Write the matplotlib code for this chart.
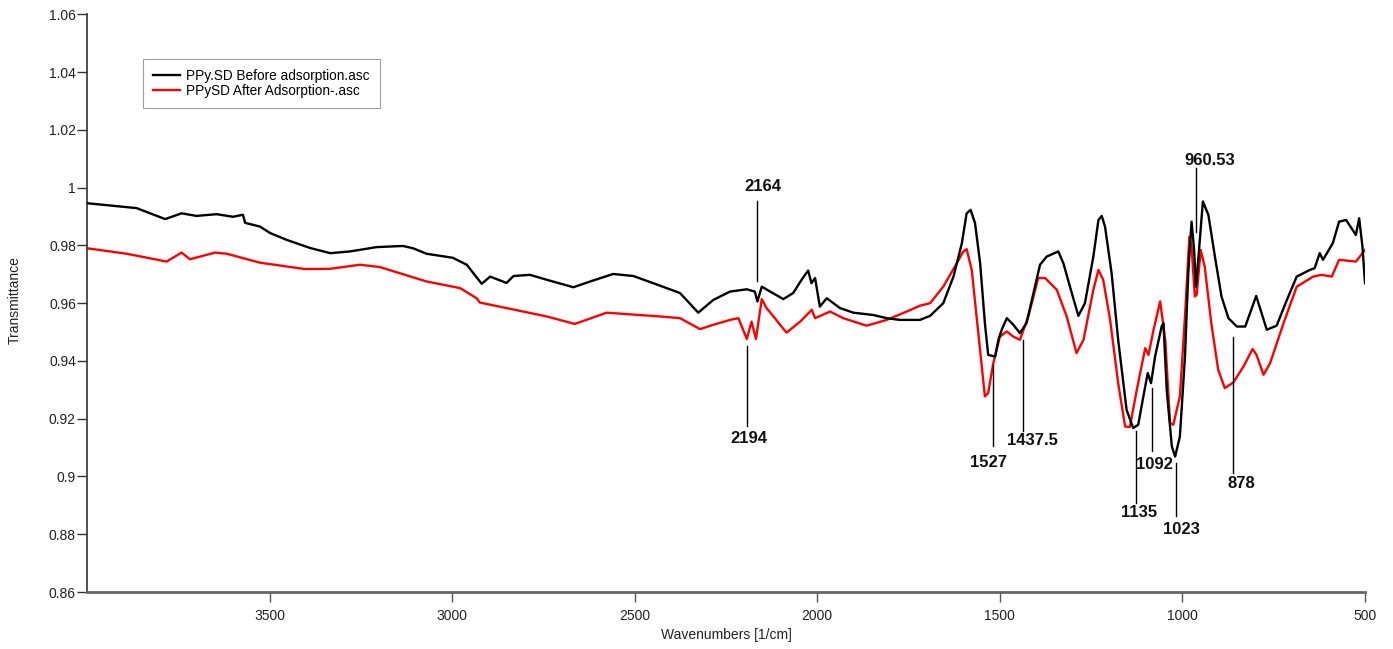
import matplotlib
matplotlib.use("Agg")
import matplotlib.pyplot as plt

plt.rcParams['font.family'] = ['Liberation Sans', 'DejaVu Sans']

# Wavenumbers and transmittance
before_x = [4000, 3864, 3786, 3741, 3700, 3645, 3600, 3573, 3567, 3526, 3499, 3453,
            3389, 3334, 3280, 3207, 3135, 3107, 3070, 2998, 2960, 2919, 2896, 2851,
            2832, 2787, 2741, 2668, 2622, 2559, 2504, 2449, 2376, 2326, 2285, 2239,
            2193, 2171, 2164, 2152, 2129, 2093, 2066, 2043, 2025, 2016, 2006, 1993,
            1974, 1938, 1901, 1847, 1810, 1774, 1719, 1691, 1655, 1627, 1604, 1591,
            1580, 1568, 1554, 1541, 1532, 1513, 1504, 1495, 1481, 1463, 1445, 1427,
            1408, 1390, 1372, 1340, 1326, 1308, 1285, 1267, 1244, 1230, 1221, 1212,
            1194, 1176, 1153, 1135, 1121, 1107, 1095, 1086, 1075, 1057, 1052, 1043,
            1029, 1020, 1007, 993, 984, 975, 968, 963, 956, 944, 929, 911, 893, 874,
            851, 828, 798, 783, 769, 742, 714, 687, 651, 638, 624, 615, 588, 571,
            552, 534, 525, 516, 507, 500]
before_y = [0.9946, 0.9929, 0.9891, 0.9911, 0.9902, 0.9908, 0.9899, 0.9906, 0.9878,
            0.9865, 0.9843, 0.9819, 0.9791, 0.9773, 0.9779, 0.9794, 0.9798, 0.9790,
            0.9771, 0.9757, 0.9733, 0.9667, 0.9692, 0.9670, 0.9694, 0.9698, 0.9681,
            0.9655, 0.9675, 0.9701, 0.9694, 0.9669, 0.9635, 0.9567, 0.9611, 0.9640,
            0.9648, 0.9640, 0.9606, 0.9657, 0.9640, 0.9614, 0.9635, 0.9681, 0.9713,
            0.9669, 0.9687, 0.9588, 0.9617, 0.9583, 0.9567, 0.9559, 0.9548, 0.9542,
            0.9542, 0.9556, 0.9600, 0.9692, 0.9808, 0.9911, 0.9923, 0.9877, 0.9738,
            0.9531, 0.9421, 0.9415, 0.9473, 0.9508, 0.9548, 0.9525, 0.9496, 0.9531,
            0.9635, 0.9733, 0.9761, 0.9779, 0.9738, 0.9657, 0.9556, 0.9600, 0.9761,
            0.9888, 0.9902, 0.9865, 0.9704, 0.9473, 0.9231, 0.9168, 0.9179, 0.9277,
            0.9358, 0.9323, 0.9415, 0.9519, 0.9531, 0.9300, 0.9104, 0.9069, 0.9138,
            0.9415, 0.9704, 0.9882, 0.9784, 0.9657, 0.9761, 0.9952, 0.9906, 0.9761,
            0.9623, 0.9548, 0.9519, 0.9519, 0.9625, 0.9565, 0.9508, 0.9522, 0.9611,
            0.9692, 0.9715, 0.9721, 0.9773, 0.9750, 0.9808, 0.9882, 0.9888, 0.9854,
            0.9836, 0.9894, 0.9796, 0.9669]

after_x = [4000, 3891, 3782, 3741, 3718, 3649, 3617, 3526, 3403, 3334, 3252, 3198,
           3070, 2978, 2933, 2924, 2851, 2741, 2664, 2577, 2431, 2376, 2321, 2285,
           2239, 2216, 2193, 2180, 2168, 2152, 2139, 2120, 2102, 2084, 2047, 2015,
           2006, 1965, 1929, 1865, 1810, 1755, 1719, 1691, 1655, 1623, 1600, 1591,
           1577, 1559, 1541, 1532, 1518, 1500, 1481, 1463, 1445, 1422, 1395, 1376,
           1344, 1317, 1290, 1271, 1244, 1230, 1217, 1198, 1176, 1157, 1144, 1125,
           1102, 1093, 1079, 1061, 1047, 1034, 1025, 1007, 993, 981, 975, 966, 961,
           950, 939, 921, 902, 884, 861, 833, 808, 797, 778, 760, 723, 687, 642,
           619, 591, 571, 525, 500]
after_y = [0.9790, 0.9771, 0.9744, 0.9775, 0.9752, 0.9775, 0.9771, 0.9740, 0.9718,
           0.9719, 0.9733, 0.9725, 0.9675, 0.9652, 0.9617, 0.9602, 0.9583, 0.9554,
           0.9528, 0.9567, 0.9554, 0.9548, 0.9510, 0.9525, 0.9542, 0.9548, 0.9476,
           0.9536, 0.9476, 0.9614, 0.9583, 0.9554, 0.9525, 0.9498, 0.9536, 0.9577,
           0.9548, 0.9571, 0.9548, 0.9522, 0.9542, 0.9571, 0.9591, 0.9600, 0.9657,
           0.9727, 0.9779, 0.9787, 0.9715, 0.9496, 0.9277, 0.9289, 0.9392, 0.9484,
           0.9502, 0.9484, 0.9473, 0.9554, 0.9687, 0.9687, 0.9646, 0.9554, 0.9427,
           0.9473, 0.9646, 0.9715, 0.9681, 0.9542, 0.9323, 0.9173, 0.9171, 0.9300,
           0.9444, 0.9421, 0.9508, 0.9606, 0.9473, 0.9185, 0.9179, 0.9277, 0.9554,
           0.9830, 0.9796, 0.9623, 0.9629, 0.9784, 0.9727, 0.9531, 0.9369, 0.9306,
           0.9325, 0.9380, 0.9441, 0.9421, 0.9352, 0.9392, 0.9531, 0.9657, 0.9692,
           0.9698, 0.9692, 0.9750, 0.9744, 0.9784]

series_labels = ["PPy.SD Before adsorption.asc", "PPySD After Adsorption-.asc"]

# Peak annotations: label, line x, line y range, label position
peak_labels = ["2164", "2194", "1527", "1437.5", "1135", "1092", "1023", "878", "960.53"]
peak_line_x = [2166, 2192, 1520, 1436, 1128, 1083, 1018, 861, 963]
peak_line_y0 = [0.9675, 0.9450, 0.9387, 0.9473, 0.9156, 0.9306, 0.9046, 0.9484, 0.9848]
peak_line_y1 = [0.9952, 0.9173, 0.9104, 0.9156, 0.8908, 0.9087, 0.8862, 0.9012, 1.0067]
peak_text_x = [2150, 2188, 1530, 1412, 1120, 1077, 1004, 838, 926]
peak_text_y = [1.0003, 0.9130, 0.9049, 0.9125, 0.8875, 0.9041, 0.8816, 0.8975, 1.0093]

y_ticks = [0.86, 0.88, 0.9, 0.92, 0.94, 0.96, 0.98, 1.0, 1.02, 1.04, 1.06]
y_tick_labels = ["0.86", "0.88", "0.9", "0.92", "0.94", "0.96", "0.98", "1", "1.02", "1.04", "1.06"]
x_ticks = [3500, 3000, 2500, 2000, 1500, 1000, 500]

fig = plt.figure(figsize=(13.93, 6.49), dpi=100)
ax = fig.add_axes([87 / 1393, 57 / 649, 1278 / 1393, 577.7 / 649])

ax.plot(before_x, before_y, color="black", lw=1.7, label=series_labels[0], zorder=3)
ax.plot(after_x, after_y, color="#ff0000", lw=1.7, label=series_labels[1], zorder=2)

for lab, lx, y0, y1, tx, ty in zip(peak_labels, peak_line_x, peak_line_y0, peak_line_y1,
                                   peak_text_x, peak_text_y):
    ax.plot([lx, lx], [y0, y1], color="black", lw=1.0, zorder=4)
    ax.text(tx, ty, lab, ha="center", va="center", fontsize=12, fontweight="bold",
            color="#111111")

ax.set_xlim(4000, 500)
ax.set_ylim(0.86, 1.06)
ax.set_xticks(x_ticks)
ax.set_xticklabels([str(t) for t in x_ticks])
ax.set_yticks(y_ticks)
ax.set_yticklabels(y_tick_labels)

for s in ["top", "right"]:
    ax.spines[s].set_visible(False)
ax.spines["left"].set_color("#333333")
ax.spines["left"].set_linewidth(1.2)
ax.spines["bottom"].set_color("#666666")
ax.spines["bottom"].set_linewidth(2.0)

ax.tick_params(axis="y", direction="out", length=7, width=1, color="#333333",
               labelsize=10, pad=1, labelcolor="#222222")
ax.tick_params(axis="x", direction="out", length=7, width=1, color="#555555",
               labelsize=10, pad=5, labelcolor="#222222")

ax.set_xlabel("Wavenumbers [1/cm]", fontsize=10, color="#222222", labelpad=4)
fig.text(15 / 1393, 1 - 300 / 649, "Transmittance", rotation=90, ha="center",
         va="center", fontsize=10, color="#222222")

leg = ax.legend(loc="upper left", bbox_to_anchor=(143 / 1393, 1 - 59 / 649),
                bbox_transform=fig.transFigure, fontsize=9.8, frameon=True,
                fancybox=False, borderaxespad=0, handlelength=2.0,
                handletextpad=0.4, labelspacing=0.03, borderpad=0.75)
leg.get_frame().set_edgecolor("#888888")
leg.get_frame().set_linewidth(0.8)

fig.savefig("out.png", dpi=100)
